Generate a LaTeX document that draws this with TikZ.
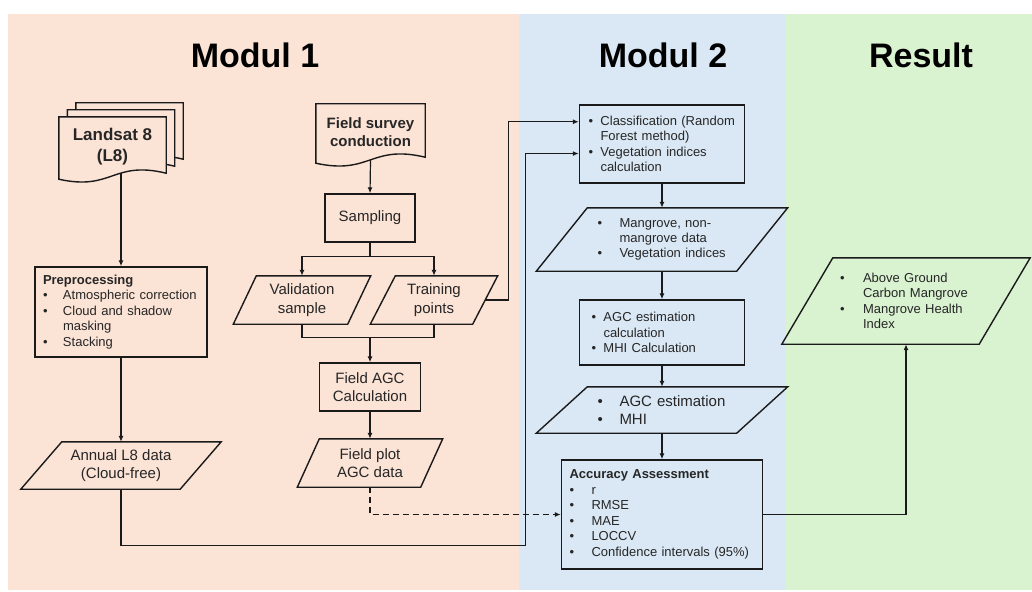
\documentclass[tikz,border=0pt]{standalone}
\usepackage{fontspec}
\setmainfont{Liberation Sans}
\usetikzlibrary{arrows.meta,calc}
\pgfdeclarelayer{bg}
\pgfsetlayers{bg,main}
\definecolor{peach}{HTML}{FBE3D6}
\definecolor{skyb}{HTML}{DAE8F5}
\definecolor{mint}{HTML}{D9F2D0}
\definecolor{ink}{HTML}{1A1A1A}
\newcommand{\itm}[2]{\mbox{\makebox[#1][l]{\textbullet}#2}}
\newcommand{\itcont}[2]{\mbox{\hspace*{#1}#2}}
% parallelogram round a node: #1 node, #2 slant
\newcommand{\parashape}[2]{\draw[outl] ($(#1.south west)+(-#2/2,0)$) -- ($(#1.north west)+(#2/2,0)$)
  -- ($(#1.north east)+(#2/2,0)$) -- ($(#1.south east)+(-#2/2,0)$) -- cycle;}
% document with wavy bottom: #1 node, #2 #3 offset
\newcommand{\docshape}[3]{\draw[outl, fill=peach] ($(#1.south west)+(#2,#3+3)$) -- ($(#1.north west)+(#2,#3)$)
  -- ($(#1.north east)+(#2,#3)$) -- ($(#1.south east)+(#2,#3-3)$)
  .. controls ($(#1.south)+(#2,#3-16)$) and ($(#1.south)+(#2,#3+15)$) .. ($(#1.south west)+(#2,#3+3)$) -- cycle;}

\begin{document}
\begin{tikzpicture}[x=1pt, y=-1pt, >={Latex[length=6pt,width=5pt]},
    font=\fontsize{13}{15.5}\selectfont,
    outl/.style={draw=ink, line width=1.4pt},
    conn/.style={draw=ink, line width=1.2pt},
    ttl/.style={font=\fontsize{34}{40}\selectfont\bfseries, text=black},
    boxc/.style={outl, align=center, inner sep=0pt, text=black!85, font=\fontsize{15}{18.5}\selectfont},
    boxl/.style={outl, align=left, inner sep=0pt, text=black!85, font=\fontsize{13}{15.5}\selectfont},
    para/.style={align=center, inner sep=0pt, text=black!85, font=\fontsize{15}{18.5}\selectfont},
    paral/.style={align=left, inner sep=0pt, text=black!85, font=\fontsize{13}{15.3}\selectfont},
    docn/.style={align=center, inner sep=0pt, text=black!85}]
  \useasboundingbox (0,0) rectangle (1032,591);
  \begin{pgfonlayer}{bg}
    \fill[peach] (8,14) rectangle (519,590);
    \fill[skyb] (519,14) rectangle (786,590);
    \fill[mint] (786,14) rectangle (1032,590);
  \end{pgfonlayer}

  \node[ttl] (t1) at (255,55) {Modul 1};
  \node[ttl] (t2) at (663,55) {Modul 2};
  \node[ttl] (t3) at (921,55) {Result};

  % Modul 1
  \node[docn, minimum width=107, minimum height=59, font=\fontsize{17}{21}\selectfont\bfseries] (land) at (112.5,146.5) {Landsat 8\\(L8)};
  \node[docn, minimum width=109, minimum height=56, font=\fontsize{15}{18}\selectfont\bfseries] (fsur) at (370.5,132) {Field survey\\conduction};
  \node[boxl, minimum width=172, minimum height=90, text width=156] (pre) at (121,312)
    {\textbf{Preprocessing}\\\itm{20pt}{Atmospheric correction}\\\itm{20pt}{Cloud and shadow}\\\itcont{20pt}{masking}\\\itm{20pt}{Stacking}};
  \node[para, minimum width=159, minimum height=47] (annual) at (121,465.5) {Annual L8 data\\(Cloud-free)};
  \node[boxc, minimum width=90, minimum height=48] (samp) at (370,218) {Sampling};
  \node[para, minimum width=114, minimum height=48] (valid) at (302,300) {Validation\\sample};
  \node[para, minimum width=102, minimum height=48] (train) at (434,300) {Training\\points};
  \node[boxc, minimum width=101, minimum height=48] (fagc) at (370,387) {Field AGC\\Calculation};
  \node[para, minimum width=123, minimum height=48] (fplot) at (370,463) {Field plot\\AGC data};

  % Modul 2
  \node[boxl, minimum width=165, minimum height=78, text width=147] (cls) at (662,144)
    {\itm{12pt}{Classification (Random}\\\itcont{12pt}{Forest method)}\\\itm{12pt}{Vegetation indices}\\\itcont{12pt}{calculation}};
  \node[paral, minimum width=200, minimum height=63, text width=129] (mang) at (662,239.5)
    {\itm{22pt}{Mangrove, non-}\\\itcont{22pt}{mangrove data}\\\itm{22pt}{Vegetation indices}};
  \node[boxl, minimum width=165, minimum height=65, text width=141] (agcc) at (662,332.5)
    {\itm{12pt}{AGC estimation}\\\itcont{12pt}{calculation}\\\itm{12pt}{MHI Calculation}};
  \node[para, align=left, minimum width=200, minimum height=46, text width=129] (agcp) at (662,410)
    {\itm{22pt}{AGC estimation}\\\itm{22pt}{MHI}};
  \node[boxl, minimum width=201, minimum height=109, text width=185] (acc) at (662,514.5)
    {\textbf{Accuracy Assessment}\\\itm{22pt}{r}\\\itm{22pt}{RMSE}\\\itm{22pt}{MAE}\\\itm{22pt}{LOCCV}\\\itm{22pt}{Confidence intervals (95\%)}};

  % Result
  \node[paral, minimum width=197, minimum height=86, text width=132] (res) at (906,301)
    {\itm{23pt}{Above Ground}\\\itcont{23pt}{Carbon Mangrove}\\\itm{23pt}{Mangrove Health}\\\itcont{23pt}{Index}};

  \begin{pgfonlayer}{bg}
    \docshape{land}{17}{-14}
    \docshape{land}{8.5}{-7}
    \docshape{land}{0}{0}
    \docshape{fsur}{0}{0}
  \end{pgfonlayer}
  \parashape{annual}{41}
  \parashape{valid}{23}
  \parashape{train}{25}
  \parashape{fplot}{22}
  \parashape{mang}{51}
  \parashape{agcp}{51}
  \parashape{res}{51}

  \coordinate (in1) at ($(cls.north west)!0.22!(cls.south west)$);
  \coordinate (in2) at ($(cls.north west)!0.62!(cls.south west)$);
  \draw[conn,->] ($(land.south -| pre.north)+(0,-3)$) -- (pre.north);
  \draw[conn,->] (pre.south) -- (annual.north);
  \draw[conn,->] (fsur.south) -- (samp.north);
  \draw[conn,->] (samp.south) -- ++(0,14) -| (valid.north);
  \draw[conn,->] (samp.south) -- ++(0,14) -| (train.north);
  \draw[conn] (valid.south) -- ++(0,13) -| (train.south);
  \draw[conn,->] ($(valid.south -| fagc.north)+(0,13)$) -- (fagc.north);
  \draw[conn,->] (fagc.south) -- (fplot.north);
  \draw[conn,->,dash pattern=on 6pt off 4pt] (fplot.south) |- (acc.west);
  \draw[conn,->] (train.east) -| ([xshift=-70pt]in1) -- (in1);
  \draw[conn,->] (annual.south) -- ++(0,56) -| ([xshift=-53pt]in2) -- (in2);
  \draw[conn,->] (cls.south) -- (mang.north);
  \draw[conn,->] (mang.south) -- (agcc.north);
  \draw[conn,->] (agcc.south) -- (agcp.north);
  \draw[conn,->] (agcp.south) -- (acc.north);
  \draw[conn,->] (acc.east) -| (res.south);
\end{tikzpicture}
\end{document}
